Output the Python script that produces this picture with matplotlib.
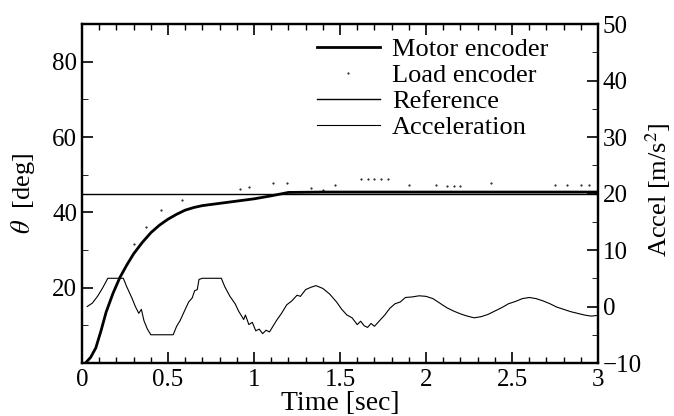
import numpy as np
import matplotlib
matplotlib.use("Agg")
import matplotlib.pyplot as plt
from matplotlib.ticker import MultipleLocator, FormatStrFormatter

plt.rcParams["font.family"] = ["Liberation Serif", "DejaVu Serif"]
plt.rcParams["mathtext.fontset"] = "stix"

# motor encoder angle [deg]
motor_t = [0.02, 0.05, 0.08, 0.11, 0.14, 0.18, 0.22, 0.26, 0.30, 0.35, 0.40, 0.45,
           0.50, 0.55, 0.60, 0.65, 0.70, 0.80, 0.90, 1.00, 1.10, 1.20, 1.40, 2.00, 3.00]
motor_deg = [0, 1.5, 4, 8.5, 13.5, 18.5, 22.7, 26, 29, 32, 34.6, 36.6,
             38.2, 39.5, 40.6, 41.3, 41.8, 42.4, 43, 43.6, 44.4, 45.3, 45.4, 45.4, 45.4]

# load encoder, sparse samples [deg]
load_t = [0.30, 0.37, 0.46, 0.58, 0.92, 0.97, 1.11, 1.19, 1.33, 1.40, 1.47, 1.62, 1.66,
          1.70, 1.74, 1.78, 1.90, 2.06, 2.12, 2.16, 2.20, 2.38, 2.75, 2.82, 2.90, 2.95]
load_deg = [31.5, 36.2, 40.6, 43.3, 46.3, 46.8, 47.8, 47.8, 46.5, 46.0, 47.3, 49, 49,
            49, 49, 49, 47.3, 47.2, 47.0, 47.0, 47.0, 47.8, 47.3, 47.3, 47.3, 47.3]

# reference angle [deg]
ref_t = [0, 3]
ref_deg = [45, 45]

# acceleration [m/s^2]
acc_t = [0.03, 0.06, 0.09, 0.12, 0.15, 0.24, 0.26, 0.29, 0.31, 0.33, 0.345, 0.36, 0.38, 0.40,
         0.53, 0.55, 0.57, 0.60, 0.62, 0.64, 0.655, 0.67, 0.68, 0.70, 0.81, 0.83, 0.86, 0.89,
         0.91, 0.94, 0.95, 0.97, 0.99, 1.01, 1.03, 1.05, 1.07, 1.09, 1.11, 1.13, 1.16, 1.19,
         1.22, 1.25, 1.27, 1.30, 1.33, 1.36, 1.40, 1.44, 1.48, 1.51, 1.54, 1.57, 1.60, 1.62,
         1.64, 1.66, 1.68, 1.70, 1.73, 1.76, 1.79, 1.82, 1.85, 1.88, 1.92, 1.96, 2.00, 2.04,
         2.08, 2.12, 2.16, 2.20, 2.24, 2.28, 2.32, 2.36, 2.40, 2.44, 2.48, 2.52, 2.56, 2.60,
         2.64, 2.68, 2.72, 2.76, 2.80, 2.84, 2.88, 2.92, 2.96, 2.99]
acc = [0, 0.6, 1.8, 3.3, 5, 5, 3.5, 1.5, 0, -1.2, -0.5, -2.5, -4, -5,
       -5, -3.5, -2.5, -0.5, 0.8, 1.5, 2.8, 3.0, 4.8, 5, 5, 3.5, 1.8, 0.5,
       -0.8, -2.3, -1.5, -3.2, -2.8, -4.3, -4.0, -4.8, -4.2, -4.5, -3.5, -2.5, -1.2, 0.3,
       1.0, 2.0, 1.8, 3.0, 3.4, 3.7, 3.2, 2.2, 0.8, -0.5, -1.5, -2.0, -3.2, -2.6,
       -3.4, -3.7, -3.0, -3.5, -2.5, -1.5, -0.3, 0.5, 0.8, 1.6, 1.7, 1.9, 1.8, 1.4,
       0.6, -0.2, -0.8, -1.3, -1.7, -2.0, -1.8, -1.4, -0.8, -0.2, 0.5, 0.9, 1.4, 1.6,
       1.4, 1.0, 0.5, -0.1, -0.5, -0.9, -1.2, -1.5, -1.7, -1.6]

fig = plt.figure(figsize=(6.74, 4.16), dpi=100)
ax = fig.add_axes([0.1217, 0.1274, 0.7656, 0.8146])
ax2 = ax.twinx()

l1, = ax.plot(motor_t, motor_deg, color="black", lw=2.0, label="Motor encoder")
l2, = ax.plot(load_t, load_deg, color="black", ls="none", marker=".", ms=1.0,
              label="Load encoder")
l3, = ax.plot(ref_t, ref_deg, color="black", lw=1.0, label="Reference")
l4, = ax2.plot(acc_t, acc, color="black", lw=0.8, label="Acceleration")

ax.set_xlim(0, 3)
ax.set_ylim(0, 90)
ax2.set_ylim(-10, 50)

ax.xaxis.set_major_locator(MultipleLocator(0.5))
ax.xaxis.set_minor_locator(MultipleLocator(0.1))
ax.xaxis.set_major_formatter(FormatStrFormatter("%g"))
ax.set_yticks([20, 40, 60, 80])
ax.yaxis.set_minor_locator(MultipleLocator(10))
ax2.yaxis.set_major_locator(MultipleLocator(10))
ax2.yaxis.set_minor_locator(MultipleLocator(5))

ax.tick_params(axis="x", which="both", direction="in", top=True, labelsize=18, pad=4)
ax.tick_params(axis="x", which="major", length=8, width=1.2)
ax.tick_params(axis="x", which="minor", length=4, width=1.0)
ax.tick_params(axis="y", which="both", direction="in", labelsize=18)
ax.tick_params(axis="y", which="major", length=8, width=1.2)
ax.tick_params(axis="y", which="minor", length=4)
ax2.tick_params(axis="y", which="both", direction="in", labelsize=18)
ax2.tick_params(axis="y", which="major", length=8, width=1.2)
ax2.tick_params(axis="y", which="minor", length=4)

for a in (ax, ax2):
    for s in a.spines.values():
        s.set_linewidth(1.6)

ax.set_xlabel("Time [sec]", fontsize=20, labelpad=0)
ax.set_ylabel(r"$\theta$  [deg]", fontsize=19, labelpad=11)
ax2.set_ylabel(r"Accel [m/s$^2$]", fontsize=19)
ax2.yaxis.set_label_coords(1.088, 0.51)

ax2.legend(handles=[l1, l2, l3, l4], loc="upper left", frameon=False, fontsize=19,
           handlelength=2.4, handletextpad=0.45, labelspacing=0.1,
           bbox_to_anchor=(0.455, 0.96), borderaxespad=0, borderpad=0)

fig.savefig("out.png", dpi=100)
